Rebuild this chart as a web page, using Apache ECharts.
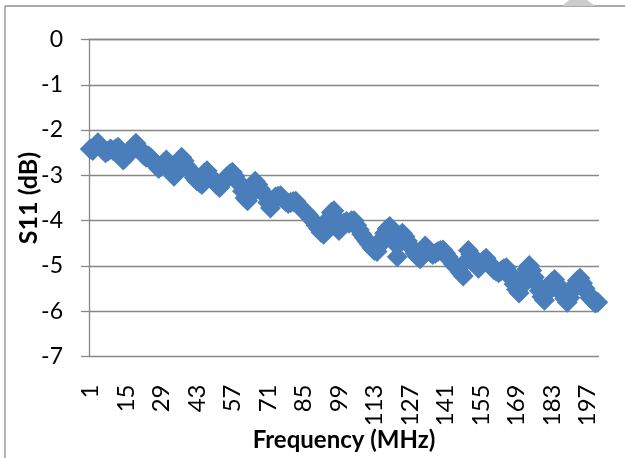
<!DOCTYPE html>
<html>
<head>
<meta charset="utf-8">
<script src="https://cdn.jsdelivr.net/npm/echarts@6/dist/echarts.min.js"></script>
<style>
html,body{margin:0;padding:0;background:#fff;}
#chart{width:625px;height:458px;}
</style>
</head>
<body>
<div id="chart"></div>
<script>
// Frequency categories 1..201 MHz
var frequencies = Array.from({length: 201}, function (_, i) { return String(i + 1); });

// S11 values (dB)
var s11_001_050 = [
  -2.42,-2.45,-2.35,-2.28,-2.36,-2.44,-2.50,-2.47,-2.42,-2.45,
  -2.41,-2.38,-2.52,-2.66,-2.60,-2.50,-2.44,-2.36,-2.29,-2.38,
  -2.47,-2.55,-2.60,-2.57,-2.62,-2.70,-2.78,-2.85,-2.80,-2.72,
  -2.66,-2.78,-2.92,-3.02,-2.88,-2.72,-2.60,-2.68,-2.80,-2.86,
  -2.95,-3.05,-3.12,-3.16,-3.20,-2.95,-2.90,-3.00,-3.08,-3.15
];
var s11_051_100 = [
  -3.22,-3.27,-3.18,-3.10,-3.02,-2.97,-2.93,-3.02,-3.12,-3.20,
  -3.35,-3.50,-3.56,-3.45,-3.25,-3.13,-3.20,-3.30,-3.38,-3.45,
  -3.60,-3.72,-3.60,-3.48,-3.46,-3.45,-3.52,-3.58,-3.62,-3.60,
  -3.58,-3.57,-3.65,-3.72,-3.78,-3.82,-3.88,-3.95,-4.02,-4.10,
  -4.18,-4.26,-4.30,-4.15,-3.95,-3.82,-3.78,-3.95,-4.22,-4.12
];
var s11_101_150 = [
  -4.05,-4.02,-4.06,-4.00,-4.00,-4.10,-4.20,-4.30,-4.38,-4.45,
  -4.52,-4.60,-4.66,-4.68,-4.55,-4.40,-4.28,-4.18,-4.13,-4.20,
  -4.50,-4.80,-4.50,-4.28,-4.35,-4.45,-4.55,-4.62,-4.72,-4.80,
  -4.84,-4.70,-4.56,-4.62,-4.70,-4.75,-4.72,-4.68,-4.66,-4.65,
  -4.72,-4.80,-4.88,-4.95,-5.02,-5.05,-5.15,-5.22,-4.90,-4.66
];
var s11_151_201 = [
  -4.75,-4.88,-4.98,-5.05,-4.98,-4.88,-4.83,-4.92,-5.00,-5.08,
  -5.12,-5.15,-5.10,-5.06,-5.04,-5.15,-5.28,-5.40,-5.52,-5.60,
  -5.45,-5.25,-5.08,-4.99,-5.10,-5.25,-5.40,-5.55,-5.68,-5.76,
  -5.60,-5.45,-5.35,-5.30,-5.40,-5.50,-5.62,-5.72,-5.80,-5.70,
  -5.55,-5.42,-5.32,-5.27,-5.38,-5.50,-5.60,-5.70,-5.76,-5.82,
  -5.80
];
var s11 = s11_001_050.concat(s11_051_100, s11_101_150, s11_151_201);

var yMin = -7, yMax = 0, yStep = 1;
var xLabelEvery = 14;

var gridGray = '#878787';
var markerBlue = '#4A7EBB';
var fontFam = 'Lato, "Open Sans", sans-serif';

var chart = echarts.init(document.getElementById('chart'), null, {renderer: 'canvas'});
chart.setOption({
  animation: false,
  backgroundColor: '#fff',
  grid: {left: 89, right: 26, top: 39.5, bottom: 101.5, containLabel: false, outerBoundsMode: 'none'},
  xAxis: {
    type: 'category',
    data: frequencies,
    boundaryGap: true,
    name: 'Frequency (MHz)',
    nameLocation: 'middle',
    nameGap: 72,
    nameMoveOverlap: false,
    nameTextStyle: {fontFamily: fontFam, fontSize: 24, fontWeight: 'bold', color: '#000'},
    axisLine: {show: true, lineStyle: {color: gridGray, width: 1.3}},
    axisTick: {show: false},
    axisLabel: {
      interval: xLabelEvery - 1,
      rotate: 90,
      margin: 28,
      fontFamily: fontFam,
      fontSize: 24,
      color: '#000'
    },
    splitLine: {show: false}
  },
  yAxis: {
    type: 'value',
    min: yMin, max: yMax, interval: yStep,
    name: 'S11 (dB)',
    nameLocation: 'middle',
    nameRotate: 90,
    nameGap: 48,
    nameMoveOverlap: false,
    nameTextStyle: {fontFamily: fontFam, fontSize: 25, fontWeight: 'bold', color: '#000'},
    axisLine: {show: true, lineStyle: {color: gridGray, width: 1.3}},
    axisTick: {show: true, length: 8, lineStyle: {color: gridGray, width: 1.3}},
    axisLabel: {margin: 26, fontFamily: fontFam, fontSize: 23, color: '#000'},
    splitLine: {show: true, lineStyle: {color: gridGray, width: 1.3}}
  },
  series: [{
    type: 'line',
    data: s11,
    symbol: 'diamond',
    symbolSize: 21,
    showAllSymbol: true,
    itemStyle: {color: markerBlue},
    lineStyle: {color: markerBlue, width: 2}
  }],
  graphic: [
    {type: 'line', shape: {x1: 5, y1: 6, x2: 625, y2: 6}, style: {stroke: '#8c8c8c', lineWidth: 1.3}},
    {type: 'line', shape: {x1: 5, y1: 6, x2: 5, y2: 458}, style: {stroke: '#8c8c8c', lineWidth: 1.3}},
    {type: 'polygon', shape: {points: [[562, 6], [595, 6], [587, 0], [569, 0]]}, style: {fill: '#cccccc'}}
  ]
});
</script>
</body>
</html>
